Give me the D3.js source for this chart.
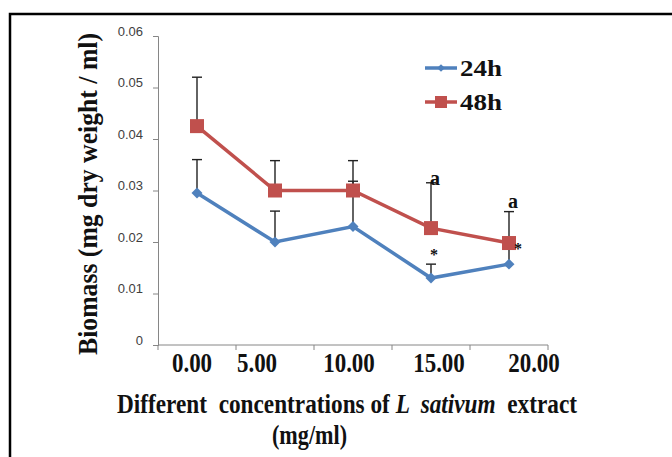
<!DOCTYPE html>
<html>
<head>
<meta charset="utf-8">
<script src="https://cdn.jsdelivr.net/npm/d3@7"></script>
<style>
  body { margin: 0; background: #fff; }
  svg { display: block; }
</style>
</head>
<body>
<div id="chart"></div>
<script>
var categories = ["0.00", "5.00", "10.00", "15.00", "20.00"];
var series24 = [0.0295, 0.020, 0.023, 0.013, 0.0157];
var err24 = [0.0065, 0.006, 0.0088, 0.0027, 0.003];
var series48 = [0.0425, 0.030, 0.030, 0.0227, 0.0198];
var err48 = [0.0095, 0.0058, 0.0058, 0.0088, 0.0061];
var yTicks = [0, 0.01, 0.02, 0.03, 0.04, 0.05, 0.06];
var labelShift = [-5, -18, -4, 8, 25]; // tick labels sit off-centre in the original

var w = 672, h = 457;
var blue = "#4F81BD", red = "#C0504D";
var serif = "'Liberation Serif', 'Times New Roman', serif";

var svg = d3.select("#chart")
    .append("svg")
    .attr("width", w)
    .attr("height", h);

// frame (top + left only)
svg.append("path")
    .attr("d", "M10,457 L10,14 L672,14")
    .attr("fill", "none")
    .attr("stroke", "#000")
    .attr("stroke-width", 2.5);

var x = d3.scaleBand().domain(categories).range([158, 548]);
var y = d3.scaleLinear().domain([0, 0.06]).range([345, 36]);

// y axis
var yAxis = svg.append("g")
    .attr("transform", "translate(158,0)")
    .call(d3.axisLeft(y).tickValues(yTicks).tickSize(5).tickPadding(10)
        .tickFormat(function(d) { return d === 0 ? "0" : d3.format(".2f")(d); }));
yAxis.select(".domain").attr("stroke", "#868686");
yAxis.selectAll(".tick line").attr("stroke", "#868686");
yAxis.selectAll("text")
    .attr("font-family", "'Liberation Sans', Arial, sans-serif")
    .attr("font-size", "13px")
    .attr("fill", "#404040")
    .attr("dy", "-0.05em");

// x axis: ticks at the category boundaries
var xAxis = svg.append("g")
    .attr("transform", "translate(0,345)");
xAxis.append("line")
    .attr("x1", 158).attr("x2", 548)
    .attr("stroke", "#868686");
xAxis.selectAll(".bnd")
    .data(categories.concat(["end"]))
    .enter()
    .append("line")
    .attr("x1", function(d, i) { return i < categories.length ? x(d) : x.range()[1]; })
    .attr("x2", function(d, i) { return i < categories.length ? x(d) : x.range()[1]; })
    .attr("y1", 0).attr("y2", 5)
    .attr("stroke", "#868686");
xAxis.selectAll("text")
    .data(categories)
    .enter()
    .append("text")
    .text(function(d) { return d; })
    .attr("transform", function(d, i) {
        return "translate(" + (x(d) + x.bandwidth() / 2 + labelShift[i]) + ",27) scale(1,1.15)";
    })
    .attr("text-anchor", "middle")
    .attr("font-family", serif)
    .attr("font-weight", "bold")
    .attr("font-size", "23px")
    .attr("fill", "#111");

function cx(d, i) { return x(categories[i]) + x.bandwidth() / 2; }

// error bars (upper only)
function errorBars(vals, errs) {
    var g = svg.append("g").attr("stroke", "#222").attr("stroke-width", 1.4);
    g.selectAll(".v").data(vals).enter().append("line")
        .attr("x1", cx).attr("x2", cx)
        .attr("y1", function(d) { return y(d); })
        .attr("y2", function(d, i) { return y(d + errs[i]); });
    g.selectAll(".c").data(vals).enter().append("line")
        .attr("x1", function(d, i) { return cx(d, i) - 5; })
        .attr("x2", function(d, i) { return cx(d, i) + 5; })
        .attr("y1", function(d, i) { return y(d + errs[i]); })
        .attr("y2", function(d, i) { return y(d + errs[i]); });
}
errorBars(series48, err48);
errorBars(series24, err24);

var line = d3.line().x(cx).y(function(d) { return y(d); });

svg.append("path").datum(series24)
    .attr("d", line).attr("fill", "none")
    .attr("stroke", blue).attr("stroke-width", 3.5);
svg.selectAll(".m24").data(series24).enter().append("path")
    .attr("d", d3.symbol().type(d3.symbolSquare).size(60))
    .attr("transform", function(d, i) { return "translate(" + cx(d, i) + "," + y(d) + ") rotate(45)"; })
    .attr("fill", blue);

svg.append("path").datum(series48)
    .attr("d", line).attr("fill", "none")
    .attr("stroke", red).attr("stroke-width", 3.5);
svg.selectAll(".m48").data(series48).enter().append("rect")
    .attr("x", function(d, i) { return cx(d, i) - 7; })
    .attr("y", function(d) { return y(d) - 7; })
    .attr("width", 14).attr("height", 14)
    .attr("fill", red);

// significance marks
var letterAt = [3, 4];
svg.selectAll(".lett").data(letterAt).enter().append("text")
    .text("a")
    .attr("x", function(i) { return cx(null, i) + 4; })
    .attr("y", function(i, k) { return y(series48[i] + err48[i]) + (k === 0 ? 2 : -4); })
    .attr("text-anchor", "middle")
    .attr("font-family", serif).attr("font-weight", "bold")
    .attr("font-size", "20px").attr("fill", "#111");
svg.selectAll(".star").data(letterAt).enter().append("text")
    .text("*")
    .attr("x", function(i, k) { return cx(null, i) + (k === 0 ? 3 : 9); })
    .attr("y", function(i, k) { return k === 0 ? y(series24[i] + err24[i]) - 4 : y(series48[i]) + 11; })
    .attr("text-anchor", "middle")
    .attr("font-family", serif).attr("font-weight", "bold")
    .attr("font-size", "16px").attr("fill", "#111");

// legend
var legend = [{ name: "24h", color: blue, sym: "d" }, { name: "48h", color: red, sym: "s" }];
var lg = svg.selectAll(".lg").data(legend).enter().append("g")
    .attr("transform", function(d, i) { return "translate(425," + (68 + i * 34) + ")"; });
lg.append("line").attr("x1", 0).attr("x2", 32)
    .attr("stroke", function(d) { return d.color; }).attr("stroke-width", 3.5);
lg.each(function(d) {
    var g = d3.select(this);
    if (d.sym === "d") {
        g.append("path").attr("d", d3.symbol().type(d3.symbolSquare).size(30))
            .attr("transform", "translate(16,0) rotate(45)").attr("fill", d.color);
    } else {
        g.append("rect").attr("x", 10).attr("y", -6).attr("width", 12).attr("height", 12)
            .attr("fill", d.color);
    }
});
lg.append("text").text(function(d) { return d.name; })
    .attr("transform", "translate(35,8) scale(1,1.1)")
    .attr("font-family", serif).attr("font-weight", "bold")
    .attr("font-size", "21px").attr("fill", "#111")
    .attr("textLength", 42).attr("lengthAdjust", "spacingAndGlyphs");

// axis titles
svg.append("text")
    .attr("transform", "translate(97,194) rotate(-90) scale(1,1.1)")
    .attr("text-anchor", "middle")
    .attr("font-family", serif).attr("font-weight", "bold")
    .attr("font-size", "24px").attr("fill", "#111")
    .attr("textLength", 322).attr("lengthAdjust", "spacingAndGlyphs")
    .text("Biomass (mg dry weight / ml)");

var xt = svg.append("text")
    .attr("transform", "translate(117,413) scale(1,1.12)")
    .attr("font-family", serif).attr("font-weight", "bold")
    .attr("font-size", "24px").attr("fill", "#111")
    .attr("textLength", 460).attr("lengthAdjust", "spacingAndGlyphs")
    .attr("xml:space", "preserve");
xt.append("tspan").text("Different  concentrations of ");
xt.append("tspan").attr("font-style", "italic").text("L  sativum");
xt.append("tspan").text("  extract");

svg.append("text")
    .attr("transform", "translate(272,444) scale(1,1.12)")
    .attr("font-family", serif).attr("font-weight", "bold")
    .attr("font-size", "24px").attr("fill", "#111")
    .attr("textLength", 75).attr("lengthAdjust", "spacingAndGlyphs")
    .text("(mg/ml)");
</script>
</body>
</html>
